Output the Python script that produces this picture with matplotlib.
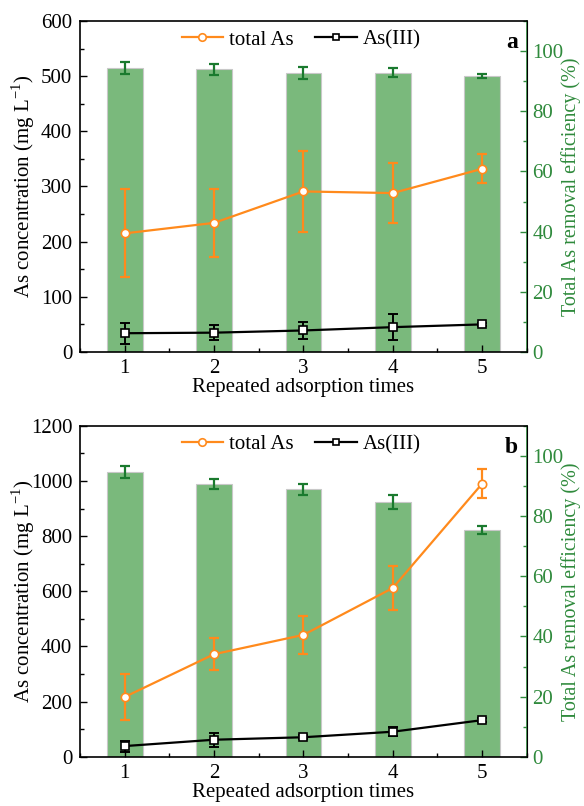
import matplotlib
matplotlib.use('Agg')
import matplotlib.pyplot as plt
from matplotlib.ticker import MultipleLocator
import numpy as np

# 数据
times = [1, 2, 3, 4, 5]

# a
eff_a = [94.5, 94.0, 92.7, 92.8, 91.7]
eff_a_err = [2.0, 1.8, 2.0, 1.5, 0.7]
total_a = [215, 234, 291, 288, 332]
total_a_err = [80, 61, 74, 54, 26]
as3_a = [34, 35, 39, 45, 50]
as3_a_err = [19, 14, 15, 24, 3]

# b
eff_b = [94.5, 90.7, 88.9, 84.7, 75.4]
eff_b_err = [2.0, 1.7, 1.8, 2.3, 1.3]
total_b = [217, 372, 442, 612, 990]
total_b_err = [83, 58, 68, 81, 52]
as3_b = [39, 62, 71, 91, 133]
as3_b_err = [20, 26, 8, 16, 8]

plt.rcParams['font.family'] = ['Liberation Serif', 'DejaVu Serif']
plt.rcParams['mathtext.fontset'] = 'custom'
plt.rcParams['mathtext.rm'] = 'Liberation Serif'

ORANGE = '#ff8a1c'
GREEN_BAR = '#7ab97c'
GREEN_ERR = '#1a7a2e'
GREEN_TXT = '#2f8a3c'
FS = 15


def draw_panel(fig, rect, eff, eff_err, total, total_err, as3, as3_err, ymax, ystep, tag):
    ax = fig.add_axes(rect)
    ax2 = ax.twinx()
    ax.set_zorder(ax2.get_zorder() + 1)
    ax.patch.set_visible(False)

    # 柱状图: 去除率
    ax2.bar(times, eff, width=0.4, color=GREEN_BAR, edgecolor='#c8c8c8', linewidth=0.8)
    ax2.errorbar(times, eff, yerr=eff_err, fmt='none', ecolor=GREEN_ERR,
                 elinewidth=1.6, capsize=3.5, capthick=1.6)
    ax2.set_ylim(0, 110)
    ax2.set_yticks([0, 20, 40, 60, 80, 100])
    ax2.yaxis.set_minor_locator(MultipleLocator(10))
    ax2.set_ylabel('Total As removal efficiency (%)', fontsize=14.5, color=GREEN_TXT)
    ax2.yaxis.set_label_coords(1.077, 0.5)
    ax2.tick_params(axis='y', which='both', direction='in', colors=GREEN_TXT, labelsize=FS)
    ax2.tick_params(axis='y', which='major', length=5, width=1, pad=4)
    ax2.tick_params(axis='y', which='minor', length=3, width=1)
    ax2.spines['right'].set_color(GREEN_TXT)
    ax2.spines['right'].set_linewidth(1.2)
    for s in ['left', 'bottom', 'top']:
        ax2.spines[s].set_visible(False)

    # 折线: 浓度
    ax.errorbar(times, total, yerr=total_err, fmt='none', ecolor=ORANGE,
                elinewidth=1.6, capsize=3.5, capthick=1.6)
    ax.plot(times, total, color=ORANGE, marker='o', ms=6, mfc='white', mec=ORANGE,
            mew=1.2, lw=1.6, label='total As')
    ax.errorbar(times, as3, yerr=as3_err, fmt='none', ecolor='black',
                elinewidth=1.4, capsize=3.5, capthick=1.4)
    ax.plot(times, as3, color='black', marker='s', ms=5.5, mfc='white', mec='black',
            mew=1.2, lw=1.6, label='As(III)')
    ax.set_xlim(0.5, 5.5)
    ax.set_ylim(0, ymax)
    ax.set_xticks(times)
    ax.xaxis.set_minor_locator(MultipleLocator(0.5))
    ax.yaxis.set_major_locator(MultipleLocator(ystep))
    ax.yaxis.set_minor_locator(MultipleLocator(ystep / 2))
    ax.tick_params(which='both', direction='in', labelsize=FS)
    ax.tick_params(which='major', length=5, width=1)
    ax.tick_params(which='minor', length=3, width=1)
    ax.tick_params(axis='x', pad=5)
    ax.tick_params(axis='y', pad=5.5)
    ax.set_xlabel('Repeated adsorption times', fontsize=FS, labelpad=0)
    ax.set_ylabel('As concentration (mg L$^{\\mathregular{-1}}$)', fontsize=FS)
    ax.yaxis.set_label_coords(-0.097, 0.5)
    for s in ['left', 'bottom', 'top']:
        ax.spines[s].set_linewidth(1.2)

    ax.legend(loc='center', ncol=2, frameon=False, fontsize=FS,
              bbox_to_anchor=(0.495, 0.943), handlelength=2.0, handletextpad=0.3,
              columnspacing=1.0, markerscale=0.9)
    ax.text(0.98, 0.967, tag, transform=ax.transAxes, fontsize=17,
            fontweight='bold', ha='right', va='top')
    return ax


fig = plt.figure(figsize=(5.84, 8.06), dpi=100)
draw_panel(fig, [0.137, 0.5633, 0.765, 0.4107], eff_a, eff_a_err, total_a, total_a_err,
           as3_a, as3_a_err, 600, 100, 'a')
draw_panel(fig, [0.137, 0.061, 0.765, 0.4107], eff_b, eff_b_err, total_b, total_b_err,
           as3_b, as3_b_err, 1200, 200, 'b')

fig.savefig('out.png', dpi=100)
